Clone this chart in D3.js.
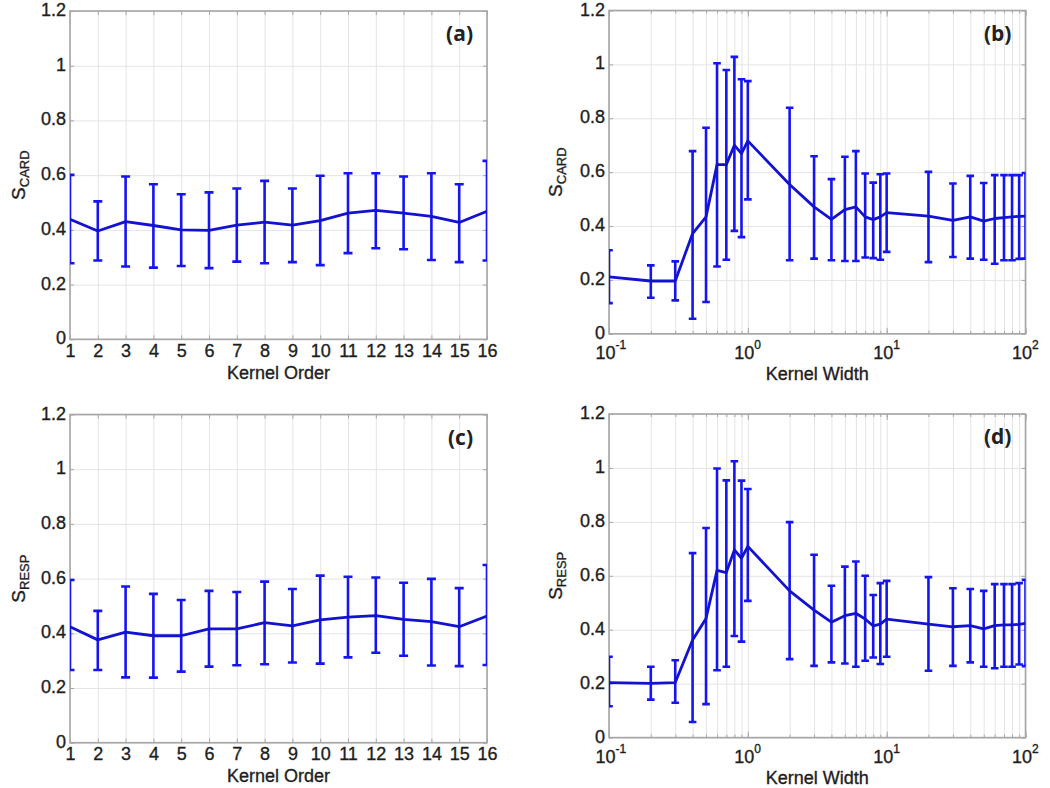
<!DOCTYPE html>
<html>
<head>
<meta charset="utf-8">
<script src="https://cdn.jsdelivr.net/npm/d3@7"></script>
<style>
  html, body { margin: 0; padding: 0; background: #fff; }
  svg { display: block; }
</style>
</head>
<body>
<svg id="chart" width="1050" height="788"></svg>
<script>
// ---------------- DATA ----------------
const kernelOrder = [1, 2, 3, 4, 5, 6, 7, 8, 9, 10, 11, 12, 13, 14, 15, 16];
const kernelWidth = [0.1, 0.2, 0.3, 0.4, 0.5, 0.6, 0.7, 0.8, 0.9, 1, 2, 3, 4, 5, 6, 7, 8, 9, 10, 20, 30, 40, 50, 60, 70, 80, 90, 100];

const yTicks = [0, 0.2, 0.4, 0.6, 0.8, 1, 1.2];
const yTickLabels = ["0", "0.2", "0.4", "0.6", "0.8", "1", "1.2"];
const logMajorTicks = [0.1, 1, 10, 100];
const logMajorExponents = ["-1", "0", "1", "2"];

// (a) S_CARD vs kernel order
const cardOrderMean = [0.439, 0.396, 0.430, 0.416, 0.400, 0.398, 0.417, 0.428, 0.417, 0.434, 0.461, 0.471, 0.461, 0.449, 0.427, 0.468];
const cardOrderLow  = [0.278, 0.288, 0.266, 0.262, 0.268, 0.260, 0.284, 0.278, 0.282, 0.271, 0.315, 0.333, 0.329, 0.290, 0.282, 0.288];
const cardOrderHigh = [0.601, 0.504, 0.595, 0.567, 0.530, 0.537, 0.551, 0.579, 0.551, 0.598, 0.607, 0.607, 0.595, 0.607, 0.567, 0.652];

// (b) S_CARD vs kernel width
const cardWidthMean = [0.211, 0.196, 0.196, 0.372, 0.434, 0.628, 0.628, 0.700, 0.669, 0.716, 0.554, 0.471, 0.425, 0.461, 0.471, 0.434, 0.424, 0.434, 0.450, 0.437, 0.421, 0.434, 0.418, 0.428, 0.431, 0.434, 0.436, 0.437];
const cardWidthLow  = [0.114, 0.134, 0.124, 0.056, 0.118, 0.250, 0.275, 0.382, 0.359, 0.499, 0.273, 0.279, 0.273, 0.270, 0.270, 0.283, 0.281, 0.275, 0.304, 0.266, 0.285, 0.279, 0.275, 0.260, 0.273, 0.273, 0.278, 0.279];
const cardWidthHigh = [0.310, 0.254, 0.269, 0.678, 0.765, 1.004, 0.979, 1.028, 0.945, 0.938, 0.839, 0.659, 0.574, 0.657, 0.678, 0.595, 0.561, 0.592, 0.595, 0.601, 0.558, 0.586, 0.560, 0.589, 0.589, 0.589, 0.589, 0.597];

// (c) S_RESP vs kernel order
const respOrderMean = [0.424, 0.376, 0.404, 0.391, 0.391, 0.416, 0.416, 0.439, 0.427, 0.449, 0.459, 0.465, 0.451, 0.443, 0.424, 0.463];
const respOrderLow  = [0.266, 0.266, 0.239, 0.238, 0.260, 0.278, 0.283, 0.287, 0.293, 0.289, 0.312, 0.329, 0.318, 0.282, 0.280, 0.284];
const respOrderHigh = [0.595, 0.482, 0.571, 0.544, 0.522, 0.555, 0.551, 0.589, 0.562, 0.611, 0.607, 0.604, 0.585, 0.599, 0.565, 0.650];

// (d) S_RESP vs kernel width
const respWidthMean = [0.204, 0.201, 0.204, 0.362, 0.442, 0.620, 0.612, 0.696, 0.665, 0.709, 0.544, 0.473, 0.428, 0.452, 0.461, 0.440, 0.414, 0.421, 0.439, 0.421, 0.411, 0.415, 0.403, 0.415, 0.418, 0.418, 0.420, 0.424];
const respWidthLow  = [0.116, 0.141, 0.129, 0.058, 0.124, 0.250, 0.263, 0.377, 0.356, 0.507, 0.291, 0.266, 0.279, 0.275, 0.263, 0.285, 0.297, 0.273, 0.300, 0.248, 0.266, 0.279, 0.263, 0.257, 0.263, 0.263, 0.271, 0.265];
const respWidthHigh = [0.300, 0.263, 0.287, 0.684, 0.777, 0.998, 0.954, 1.025, 0.953, 0.922, 0.799, 0.678, 0.563, 0.634, 0.653, 0.600, 0.529, 0.573, 0.581, 0.595, 0.554, 0.551, 0.544, 0.569, 0.569, 0.569, 0.573, 0.585];

// ---------------- LAYOUT ----------------
const panels = [
  { id: "a", tag: "(a)", type: "order", sub: "CARD", x: kernelOrder, mean: cardOrderMean, low: cardOrderLow, high: cardOrderHigh,
    box: { left: 70, right: 487, top: 11, bottom: 339.3 }, xlabel: "Kernel Order" },
  { id: "b", tag: "(b)", type: "width", sub: "CARD", x: kernelWidth, mean: cardWidthMean, low: cardWidthLow, high: cardWidthHigh,
    box: { left: 609, right: 1025.5, top: 10.5, bottom: 333.8 }, xlabel: "Kernel Width" },
  { id: "c", tag: "(c)", type: "order", sub: "RESP", x: kernelOrder, mean: respOrderMean, low: respOrderLow, high: respOrderHigh,
    box: { left: 70, right: 487, top: 414.5, bottom: 742.7 }, xlabel: "Kernel Order" },
  { id: "d", tag: "(d)", type: "width", sub: "RESP", x: kernelWidth, mean: respWidthMean, low: respWidthLow, high: respWidthHigh,
    box: { left: 609, right: 1025.5, top: 414, bottom: 737.6 }, xlabel: "Kernel Width" }
];

const BLUE = "#1515f2";
const LINE_BLUE = "#1212d0";
const FRAME = "#a6a6a6";
const GRID = "#e4e4e4";
const TEXT = "#1e1e1e";
const FONT = "'Liberation Sans', Arial, Helvetica, sans-serif";

const svg = d3.select("#chart");

function styleText(sel, size) {
  sel.attr("font-family", FONT).attr("font-size", size).attr("fill", TEXT)
     .attr("stroke", TEXT).attr("stroke-width", 0.35);
}

panels.forEach(p => {
  const b = p.box;
  const w = b.right - b.left, h = b.bottom - b.top;
  const g = svg.append("g").attr("transform", `translate(${b.left},${b.top})`);

  const y = d3.scaleLinear().domain([0, 1.2]).range([h, 0]);
  let x, gridX;
  if (p.type === "order") {
    x = d3.scaleLinear().domain([1, 16]).range([0, w]);
    gridX = kernelOrder;
  } else {
    x = d3.scaleLog().domain([0.1, 100]).range([0, w]);
    gridX = kernelWidth;
  }

  g.append("clipPath").attr("id", "clip-" + p.id)
    .append("rect").attr("x", 0).attr("y", 0).attr("width", w).attr("height", h);

  // grid
  g.append("g").attr("transform", `translate(0,${h})`)
    .call(d3.axisBottom(x).tickValues(gridX).tickSize(-h).tickFormat(""))
    .call(s => s.select(".domain").remove())
    .call(s => s.selectAll("line").attr("stroke", GRID).attr("stroke-width", 1));
  g.append("g")
    .call(d3.axisLeft(y).tickValues(yTicks).tickSize(-w).tickFormat(""))
    .call(s => s.select(".domain").remove())
    .call(s => s.selectAll("line").attr("stroke", GRID).attr("stroke-width", 1));

  // inward tick marks
  [h, 0].forEach(yy => {
    g.append("g").attr("transform", `translate(0,${yy})`)
      .call((yy === h ? d3.axisTop(x) : d3.axisBottom(x)).tickValues(gridX).tickSize(p.type === "order" ? 4 : 3).tickFormat(""))
      .call(s => s.select(".domain").remove())
      .call(s => s.selectAll("line").attr("stroke", FRAME).attr("stroke-width", 1));
    if (p.type === "width") {
      g.append("g").attr("transform", `translate(0,${yy})`)
        .call((yy === h ? d3.axisTop(x) : d3.axisBottom(x)).tickValues(logMajorTicks).tickSize(6).tickFormat(""))
        .call(s => s.select(".domain").remove())
        .call(s => s.selectAll("line").attr("stroke", FRAME).attr("stroke-width", 1));
    }
  });
  [0, w].forEach(xx => {
    g.append("g").attr("transform", `translate(${xx},0)`)
      .call((xx === 0 ? d3.axisRight(y) : d3.axisLeft(y)).tickValues(yTicks).tickSize(4).tickFormat(""))
      .call(s => s.select(".domain").remove())
      .call(s => s.selectAll("line").attr("stroke", FRAME).attr("stroke-width", 1));
  });

  // frame
  g.append("rect").attr("x", 0).attr("y", 0).attr("width", w).attr("height", h)
    .attr("fill", "none").attr("stroke", FRAME).attr("stroke-width", 1.6);

  // y tick labels
  const ya = g.append("g")
    .call(d3.axisLeft(y).tickValues(yTicks).tickSize(0).tickPadding(4)
      .tickFormat((d, i) => yTickLabels[i]));
  ya.select(".domain").remove();
  ya.selectAll("text").call(styleText, 18).attr("dy", "0.25em");

  // x tick labels
  if (p.type === "order") {
    const xa = g.append("g").attr("transform", `translate(0,${h})`)
      .call(d3.axisBottom(x).tickValues(kernelOrder).tickSize(0).tickPadding(5).tickFormat(d3.format("d")));
    xa.select(".domain").remove();
    xa.selectAll("text").call(styleText, 18);
  } else {
    const xa = g.append("g").attr("transform", `translate(0,${h})`)
      .call(d3.axisBottom(x).tickValues(logMajorTicks).tickSize(0).tickFormat(""));
    xa.select(".domain").remove();
    xa.selectAll(".tick").each(function (d, i) {
      const tk = d3.select(this);
      tk.select("text").remove();
      tk.append("text").attr("x", -4).attr("y", 25).attr("text-anchor", "middle")
        .call(styleText, 18).text("10");
      tk.append("text").attr("x", 6).attr("y", 15.5).attr("text-anchor", "start")
        .call(styleText, 12).text(logMajorExponents[i]);
    });
  }

  // x label
  g.append("text").attr("x", w / 2).attr("y", h + (p.type === "order" ? 39.5 : 46))
    .attr("text-anchor", "middle").call(styleText, 18).text(p.xlabel);

  // y label
  const yl = g.append("text")
    .attr("transform", `translate(${p.type === "order" ? -45 : -47},${h / 2}) rotate(-90)`)
    .attr("text-anchor", "middle").call(styleText, 19);
  yl.append("tspan").text("S");
  yl.append("tspan").attr("font-size", 13).attr("dy", "0.3em").text(p.sub);

  // panel tag
  g.append("text").attr("x", w - 14).attr("y", 30)
    .attr("text-anchor", "end").attr("font-family", "'Open Sans', 'DejaVu Sans', sans-serif")
    .attr("font-weight", 700).attr("font-size", 21).attr("fill", "#222").text(p.tag);

  // data
  const data = p.x.map((xv, i) => ({ x: xv, m: p.mean[i], lo: p.low[i], hi: p.high[i] }));
  const plot = g.append("g").attr("clip-path", `url(#clip-${p.id})`);
  const cap = p.type === "order" ? 4.5 : 3.8;

  const eb = plot.append("g").selectAll("g").data(data).join("g");
  eb.append("line")
    .attr("x1", d => x(d.x)).attr("x2", d => x(d.x))
    .attr("y1", d => y(d.lo)).attr("y2", d => y(d.hi))
    .attr("stroke", BLUE).attr("stroke-width", 2.6);
  eb.append("line")
    .attr("x1", d => x(d.x) - cap).attr("x2", d => x(d.x) + cap)
    .attr("y1", d => y(d.hi)).attr("y2", d => y(d.hi))
    .attr("stroke", BLUE).attr("stroke-width", 2.6);
  eb.append("line")
    .attr("x1", d => x(d.x) - cap).attr("x2", d => x(d.x) + cap)
    .attr("y1", d => y(d.lo)).attr("y2", d => y(d.lo))
    .attr("stroke", BLUE).attr("stroke-width", 2.6);

  plot.append("path").datum(data)
    .attr("d", d3.line().x(d => x(d.x)).y(d => y(d.m)))
    .attr("fill", "none").attr("stroke", LINE_BLUE).attr("stroke-width", 2.8)
    .attr("stroke-linejoin", "round");
});
</script>
</body>
</html>
